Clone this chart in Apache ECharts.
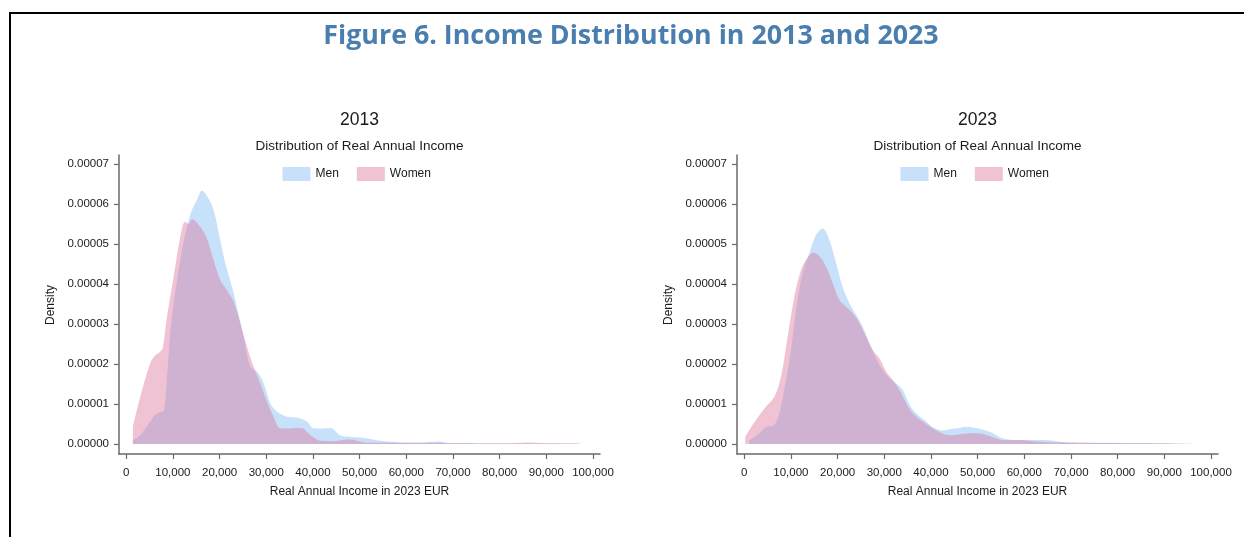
<!DOCTYPE html>
<html>
<head>
<meta charset="utf-8">
<script src="https://cdn.jsdelivr.net/npm/echarts@6/dist/echarts.min.js"></script>
<style>
html, body { margin: 0; padding: 0; background: #ffffff; }
#chart { width: 1244px; height: 537px; }
</style>
</head>
<body>
<div id="chart"></div>
<script>
// Tick values shown on the axes
const incomeTicks = [0, 10000, 20000, 30000, 40000, 50000, 60000, 70000, 80000, 90000, 100000];
const densityTicks = [0, 1e-5, 2e-5, 3e-5, 4e-5, 5e-5, 6e-5, 7e-5];

const years = ['2013', '2023'];
const seriesNames = ['Men', 'Women'];

// Kernel density of real annual income, 2013
const men2013Income = [1420, 3000, 5140, 6220, 7650, 8150, 8940, 9790, 11580, 13000, 14080, 15130, 16220, 17630, 18710, 20140, 21220, 22650, 23710, 25140, 26570, 28000, 29420, 30850, 32290, 34430, 36570, 38710, 40140, 42280, 43710, 45850, 47730, 50140, 54430, 58700, 62970, 67030, 69420, 73020, 76480, 81250, 86330, 91400, 97900];
const men2013Density = [0.10e-5, 0.22e-5, 0.56e-5, 0.73e-5, 0.81e-5, 0.85e-5, 2.0e-5, 3.18e-5, 4.6e-5, 5.43e-5, 5.85e-5, 6.1e-5, 6.33e-5, 6.14e-5, 5.85e-5, 5.1e-5, 4.52e-5, 3.93e-5, 3.43e-5, 2.68e-5, 1.93e-5, 1.81e-5, 1.52e-5, 1.02e-5, 0.81e-5, 0.68e-5, 0.66e-5, 0.56e-5, 0.39e-5, 0.39e-5, 0.40e-5, 0.22e-5, 0.18e-5, 0.16e-5, 0.08e-5, 0.04e-5, 0.03e-5, 0.06e-5, 0.01e-5, 0.03e-5, 0.01e-5, 0.01e-5, 0.01e-5, 0.01e-5, 0.01e-5];

const women2013Income = [1420, 3050, 5080, 6090, 7310, 7820, 8730, 10160, 11580, 12640, 13360, 14080, 15840, 17270, 18710, 20140, 21570, 22990, 24430, 25860, 27280, 28710, 30140, 31570, 33000, 34430, 36560, 37920, 38710, 40120, 41540, 43670, 45850, 47730, 49760, 51800, 55860, 60940, 66010, 71090, 76170, 81250, 86330, 91400, 96480, 97900];
const women2013Density = [0.43e-5, 1.2e-5, 2.0e-5, 2.2e-5, 2.31e-5, 2.4e-5, 3.18e-5, 4.18e-5, 5.18e-5, 5.56e-5, 5.5e-5, 5.62e-5, 5.43e-5, 5.14e-5, 4.6e-5, 4.1e-5, 3.85e-5, 3.56e-5, 3.02e-5, 2.43e-5, 1.93e-5, 1.52e-5, 1.06e-5, 0.68e-5, 0.39e-5, 0.39e-5, 0.40e-5, 0.39e-5, 0.30e-5, 0.17e-5, 0.08e-5, 0.07e-5, 0.09e-5, 0.11e-5, 0.07e-5, 0.03e-5, 0.03e-5, 0.03e-5, 0.03e-5, 0.02e-5, 0.02e-5, 0.02e-5, 0.04e-5, 0.02e-5, 0.02e-5, 0.03e-5];

// Kernel density of real annual income, 2023
const men2023Income = [1070, 3220, 4650, 6440, 7510, 8580, 10020, 11090, 12510, 13950, 15390, 16800, 18240, 19680, 21090, 22530, 23970, 25390, 26820, 28260, 29680, 31120, 32550, 33970, 35410, 36840, 38990, 40410, 42560, 43990, 46140, 47210, 50430, 53280, 55430, 59000, 64740, 69740, 76890, 87600, 97200];
const men2023Density = [0.09e-5, 0.27e-5, 0.42e-5, 0.48e-5, 0.77e-5, 1.35e-5, 2.35e-5, 3.35e-5, 4.27e-5, 4.77e-5, 5.23e-5, 5.39e-5, 5.1e-5, 4.52e-5, 3.93e-5, 3.52e-5, 3.23e-5, 2.93e-5, 2.52e-5, 2.14e-5, 1.85e-5, 1.64e-5, 1.52e-5, 1.35e-5, 0.98e-5, 0.77e-5, 0.56e-5, 0.42e-5, 0.34e-5, 0.37e-5, 0.40e-5, 0.43e-5, 0.38e-5, 0.27e-5, 0.14e-5, 0.10e-5, 0.10e-5, 0.03e-5, 0.03e-5, 0.02e-5, 0.01e-5];

const women2023Income = [200, 2500, 4650, 6440, 7870, 9300, 10730, 12170, 13240, 14800, 16090, 17530, 18950, 20390, 21820, 23240, 24680, 26120, 27530, 28970, 30410, 31820, 33260, 34700, 36120, 38260, 40410, 42560, 44000, 46000, 48280, 50430, 53280, 55400, 59000, 62000, 66100, 70000, 73400, 80500, 85000, 90000, 97000];
const women2023Density = [0.18e-5, 0.6e-5, 0.93e-5, 1.18e-5, 1.68e-5, 2.68e-5, 3.68e-5, 4.35e-5, 4.6e-5, 4.78e-5, 4.7e-5, 4.43e-5, 4.02e-5, 3.6e-5, 3.43e-5, 3.27e-5, 3.02e-5, 2.68e-5, 2.35e-5, 2.14e-5, 1.81e-5, 1.6e-5, 1.35e-5, 1.02e-5, 0.77e-5, 0.56e-5, 0.39e-5, 0.26e-5, 0.22e-5, 0.24e-5, 0.27e-5, 0.26e-5, 0.17e-5, 0.10e-5, 0.10e-5, 0.07e-5, 0.04e-5, 0.04e-5, 0.03e-5, 0.02e-5, 0.02e-5, 0.02e-5, 0.02e-5];

const panels = [
  { year: years[0], men: [men2013Income, men2013Density], women: [women2013Income, women2013Density] },
  { year: years[1], men: [men2023Income, men2023Density], women: [women2023Income, women2023Density] }
];

const FONT = "'Liberation Sans', Arial, sans-serif";
const TEXT = '#1a1a1a';
const AXIS = '#6a6a6a';
const MEN_FILL = 'rgb(200, 225, 251)';
const WOMEN_FILL = 'rgba(217, 105, 147, 0.4)';

// pixel layout of the two panels
const gridLefts = [119, 737];
const gridWidth = 481;
const gridTop = 155;
const gridBottom = 83;

function zip(xs, ys) {
  return xs.map((x, i) => [x, ys[i]]);
}
function withCommas(v) {
  return String(Math.round(v)).replace(/\B(?=(\d{3})+(?!\d))/g, ',');
}

const grids = [], xAxes = [], yAxes = [], series = [], legends = [], graphics = [];

panels.forEach((p, i) => {
  const left = gridLefts[i];
  const cx = left + gridWidth / 2;
  grids.push({ left: left, top: gridTop, width: gridWidth, bottom: gridBottom, containLabel: false });

  xAxes.push({
    gridIndex: i, type: 'value', min: -1550, max: 101500,
    name: 'Real Annual Income in 2023 EUR', nameLocation: 'middle', nameGap: 38,
    nameTextStyle: { fontFamily: FONT, fontSize: 12, color: TEXT, verticalAlign: 'middle' },
    axisLine: { show: true, onZero: false, lineStyle: { color: AXIS, width: 1.5 } },
    axisTick: { show: true, length: 5, customValues: incomeTicks, lineStyle: { color: AXIS, width: 1.2 } },
    axisLabel: { show: true, customValues: incomeTicks, margin: 13, fontFamily: FONT, fontSize: 11.5, color: TEXT,
                 formatter: withCommas },
    splitLine: { show: false }
  });

  yAxes.push({
    gridIndex: i, type: 'value', min: -0.0000025, max: 0.00007225,
    axisLine: { show: true, onZero: false, lineStyle: { color: AXIS, width: 1.5 } },
    axisTick: { show: true, length: 5, customValues: densityTicks, lineStyle: { color: AXIS, width: 1.2 } },
    axisLabel: { show: true, customValues: densityTicks, margin: 10, fontFamily: FONT, fontSize: 11.5, color: TEXT,
                 formatter: v => v.toFixed(5) },
    splitLine: { show: false }
  });

  series.push({
    name: seriesNames[0], type: 'line', xAxisIndex: i, yAxisIndex: i,
    data: zip(p.men[0], p.men[1]),
    smooth: 0.35, showSymbol: false, symbol: 'none',
    lineStyle: { width: 0, color: MEN_FILL },
    itemStyle: { color: MEN_FILL },
    areaStyle: { color: MEN_FILL, opacity: 1 },
    silent: true, z: 2
  });
  series.push({
    name: seriesNames[1], type: 'line', xAxisIndex: i, yAxisIndex: i,
    data: zip(p.women[0], p.women[1]),
    smooth: 0.35, showSymbol: false, symbol: 'none',
    lineStyle: { width: 0, color: WOMEN_FILL },
    itemStyle: { color: WOMEN_FILL },
    areaStyle: { color: WOMEN_FILL, opacity: 1 },
    silent: true, z: 3
  });

  legends.push({
    data: seriesNames, left: cx - 77, top: 167, padding: 0, icon: 'rect',
    itemWidth: 28, itemHeight: 14, itemGap: 18, selectedMode: false,
    itemStyle: { borderWidth: 0 },
    textStyle: { fontFamily: FONT, fontSize: 12, color: TEXT }
  });

  // panel headings and the vertical axis title
  graphics.push({ type: 'text', x: cx, y: 120, silent: true,
    style: { text: p.year, font: "17.5px " + FONT, fill: TEXT, align: 'center', verticalAlign: 'middle' } });
  graphics.push({ type: 'text', x: cx, y: 146, silent: true,
    style: { text: 'Distribution of Real Annual Income', font: "13.5px " + FONT, fill: TEXT, align: 'center', verticalAlign: 'middle' } });
  graphics.push({ type: 'text', x: left - 68, y: 305, rotation: Math.PI / 2, silent: true,
    style: { text: 'Density', font: "12px " + FONT, fill: TEXT, align: 'center', verticalAlign: 'middle' } });
});

// figure heading and frame
graphics.push({ type: 'text', x: 631, y: 36, silent: true,
  style: { text: 'Figure 6. Income Distribution in 2013 and 2023', font: "bold 26.8px 'Open Sans', Lato, sans-serif",
           fill: '#4A7EAE', align: 'center', verticalAlign: 'middle' } });
graphics.push({ type: 'line', silent: true, shape: { x1: 9, y1: 13, x2: 1244, y2: 13 }, style: { stroke: '#000', lineWidth: 2 } });
graphics.push({ type: 'line', silent: true, shape: { x1: 10, y1: 12, x2: 10, y2: 537 }, style: { stroke: '#000', lineWidth: 2 } });

const chart = echarts.init(document.getElementById('chart'), null, { renderer: 'canvas' });
chart.setOption({
  backgroundColor: '#ffffff',
  animation: false,
  grid: grids,
  xAxis: xAxes,
  yAxis: yAxes,
  legend: legends,
  series: series,
  graphic: graphics
});
</script>
</body>
</html>
